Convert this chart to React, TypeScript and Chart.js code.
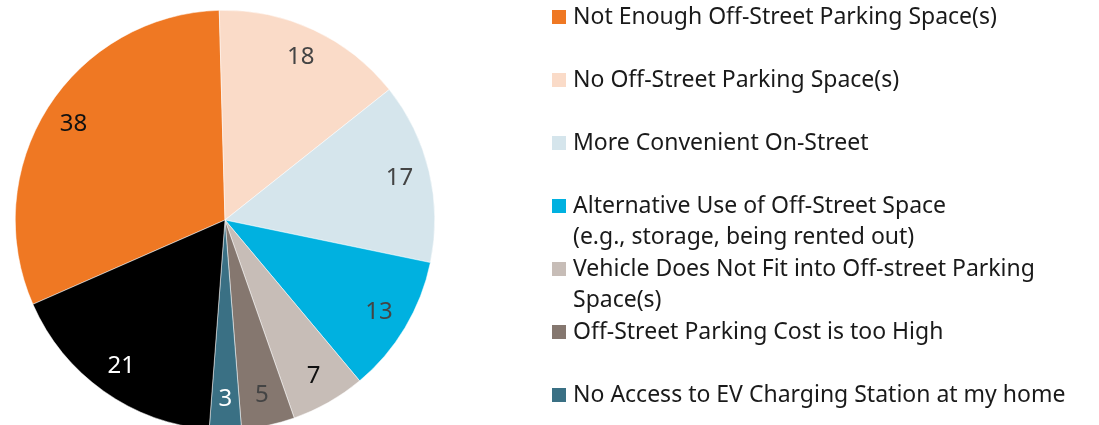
import React, { useEffect, useRef } from "react";
import { Chart, registerables } from "chart.js";

Chart.register(...registerables);

// ---- data ----
const categories = [
  "Not Enough Off-Street Parking Space(s)",
  "No Off-Street Parking Space(s)",
  "More Convenient On-Street",
  "Alternative Use of Off-Street Space (e.g., storage, being rented out)",
  "Vehicle Does Not Fit into Off-street Parking Space(s)",
  "Off-Street Parking Cost is too High",
  "No Access to EV Charging Station at my home",
  "Other",
];
const legendLines: string[][] = [
  ["Not Enough Off-Street Parking Space(s)"],
  ["No Off-Street Parking Space(s)"],
  ["More Convenient On-Street"],
  ["Alternative Use of Off-Street Space", "(e.g., storage, being rented out)"],
  ["Vehicle Does Not Fit into Off-street Parking", "Space(s)"],
  ["Off-Street Parking Cost is too High"],
  ["No Access to EV Charging Station at my home"],
  ["Other"],
];
const values = [38, 18, 17, 13, 7, 5, 3, 21];
const colors = ["#EF7823", "#FADBC8", "#D5E5EC", "#00B1E0", "#C7BDB7", "#85776F", "#3A7084", "#000000"];
const labelColors = ["#111111", "#444444", "#444444", "#444444", "#111111", "#444444", "#FFFFFF", "#FFFFFF"];

const FONT = "'Noto Sans', sans-serif";

const sliceLabels = {
  id: "sliceLabels",
  afterDatasetsDraw(chart: any) {
    const ctx = chart.ctx;
    const meta = chart.getDatasetMeta(0);
    ctx.save();
    ctx.font = `24px ${FONT}`;
    ctx.textAlign = "center";
    ctx.textBaseline = "middle";
    meta.data.forEach((arc: any, i: number) => {
      const p = arc.getProps(["x", "y", "startAngle", "endAngle", "outerRadius"], true);
      const mid = (p.startAngle + p.endAngle) / 2;
      const r = p.outerRadius * 0.855;
      ctx.fillStyle = labelColors[i];
      ctx.fillText(String(values[i]), p.x + Math.cos(mid) * r, p.y + Math.sin(mid) * r);
    });
    ctx.restore();
  },
};

const customLegend = {
  id: "customLegend",
  afterDraw(chart: any) {
    const ctx = chart.ctx;
    ctx.save();
    ctx.font = `23px ${FONT}`;
    ctx.textAlign = "left";
    ctx.textBaseline = "middle";
    legendLines.forEach((lines, i) => {
      const y0 = 17 + i * 63;
      ctx.fillStyle = colors[i];
      ctx.fillRect(552, y0 - 7, 14, 14);
      ctx.fillStyle = "#1a1a1a";
      lines.forEach((t, j) => ctx.fillText(t, 573, y0 + j * 31.5));
    });
    ctx.restore();
  },
};

export default function App() {
  const ref = useRef<HTMLCanvasElement | null>(null);
  useEffect(() => {
    if (!ref.current) return;
    const chart = new Chart(ref.current, {
      type: "pie",
      data: {
        labels: categories,
        datasets: [
          {
            data: values,
            backgroundColor: colors,
            borderColor: "#ffffff",
            borderWidth: 0.5,
          },
        ],
      },
      options: {
        responsive: false,
        animation: false,
        devicePixelRatio: 1,
        rotation: -113.7,
        layout: { padding: { left: 15, top: 10, right: 664, bottom: 60 } },
        plugins: {
          legend: { display: false },
          tooltip: { enabled: false },
          title: { display: false },
        },
      },
      plugins: [sliceLabels, customLegend],
    });
    return () => chart.destroy();
  }, []);
  return (
    <div style={{ position: "fixed", left: 0, top: 0, width: 1099, height: 425, overflow: "hidden", background: "#fff" }}>
      <canvas ref={ref} width={1099} height={490} style={{ display: "block" }} />
    </div>
  );
}
